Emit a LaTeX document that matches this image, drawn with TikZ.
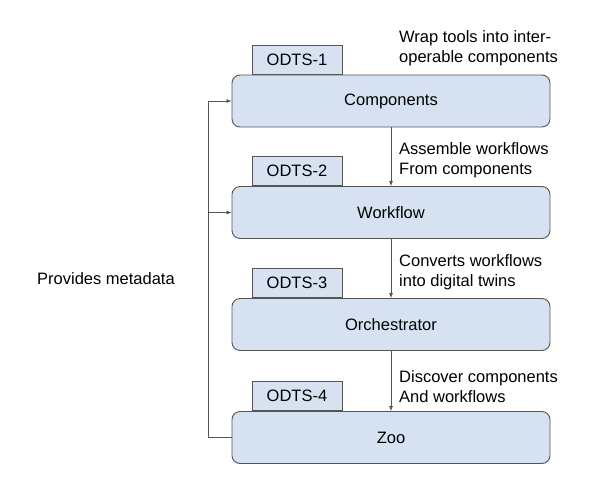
\documentclass[tikz,border=0pt]{standalone}
\usepackage{fontspec}
\setmainfont{Liberation Sans}
\usetikzlibrary{arrows.meta}
\definecolor{boxfill}{HTML}{D6E2F1}
\definecolor{boxline}{HTML}{555555}
\begin{document}
\begin{tikzpicture}[x=1pt,y=-1pt,font=\fontsize{16.5}{20}\selectfont]
	\tikzset{stage/.style={draw=boxline,fill=boxfill,rounded corners=8pt,minimum width=318pt,minimum height=52pt,line width=0.9pt}}
	\tikzset{tab/.style={draw=boxline,fill=boxfill,minimum width=90pt,minimum height=29pt,inner sep=0pt,anchor=south west,line width=0.9pt}}
	\tikzset{note/.style={align=left,anchor=south west,inner sep=0pt}}
	\tikzset{flow/.style={draw=boxline,line width=0.7pt,-{Latex[length=5pt,width=4pt]}}}
	\useasboundingbox (0,0) rectangle (600,483);
	\node [stage] (comp) at (391,101) {Components};
	\node [stage] (work) at (391,212.5) {Workflow};
	\node [stage] (orch) at (391,324.5) {Orchestrator};
	\node [stage] (zoo) at (391,437.5) {Zoo};
	\node [tab] (t1) at ([xshift=20pt]comp.north west) {ODTS-1};
	\node [tab] (t2) at ([xshift=20pt]work.north west) {ODTS-2};
	\node [tab] (t3) at ([xshift=20pt]orch.north west) {ODTS-3};
	\node [tab] (t4) at ([xshift=20pt]zoo.north west) {ODTS-4};
	\node [note] (n1) at ([xshift=8pt,yshift=8pt]comp.north) {Wrap tools into inter-\\operable components};
	\node [note] (n2) at ([xshift=8pt,yshift=8pt]work.north) {Assemble workflows\\From components};
	\node [note] (n3) at ([xshift=8pt,yshift=8pt]orch.north) {Converts workflows\\into digital twins};
	\node [note] (n4) at ([xshift=8pt,yshift=8pt]zoo.north) {Discover components\\And workflows};
	\draw [flow] (comp.south) -- (work.north);
	\draw [flow] (work.south) -- (orch.north);
	\draw [flow] (orch.south) -- (zoo.north);
	\coordinate (lft) at (208,0);
	\draw [flow] (zoo.west) -- (zoo.west -| lft) |- (comp.west);
	\draw [flow] (work.west -| lft) -- (work.west);
	\node (meta) at (106,279) {Provides metadata};
\end{tikzpicture}
\end{document}
